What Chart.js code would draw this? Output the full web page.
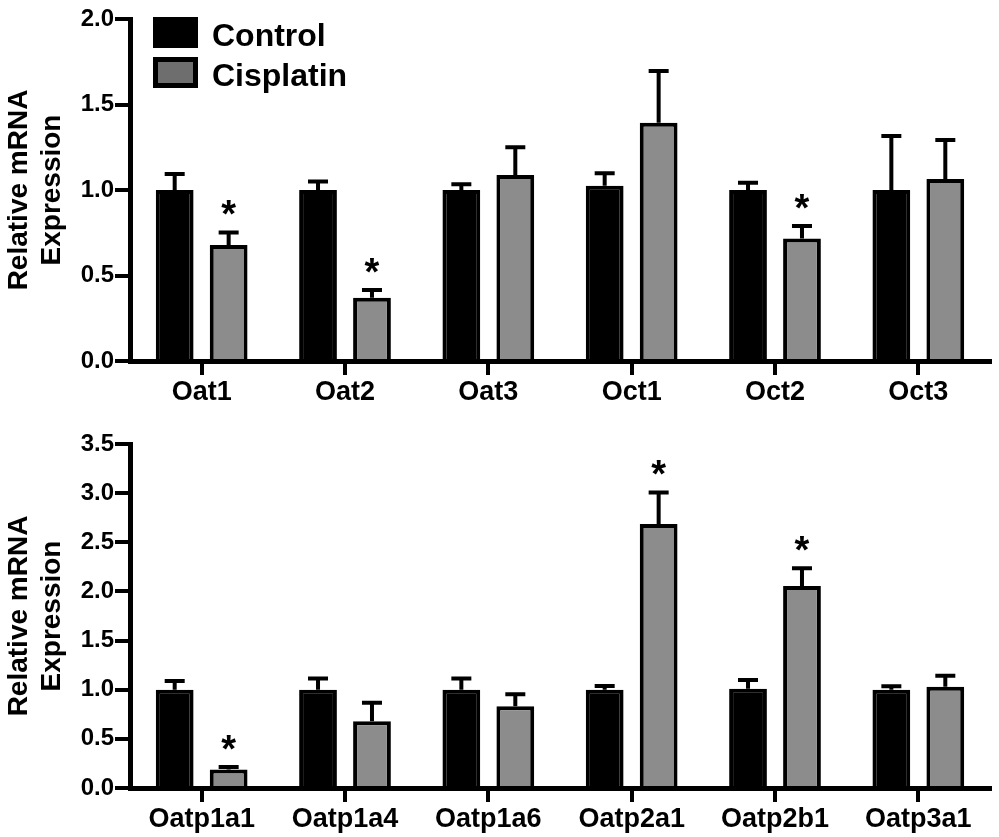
<!DOCTYPE html>
<html>
<head>
<meta charset="utf-8">
<script src="https://cdn.jsdelivr.net/npm/chart.js@4.4.1/dist/chart.umd.min.js"></script>
<style>
    body { margin: 0; background: #fff; }
    .panel { position: relative; width: 999px; }
    #top { height: 418px; }
    #bottom { height: 419px; }
</style>
</head>
<body>
<div class="panel" id="top"><canvas id="chart1"></canvas></div>
<div class="panel" id="bottom"><canvas id="chart2"></canvas></div>
<script>
// top panel: kidney uptake transporters
const groupsTop = ["Oat1", "Oat2", "Oat3", "Oct1", "Oct2", "Oct3"];
const controlTop = [1.0, 1.0, 1.0, 1.025, 1.0, 1.0];
const controlTopErr = [0.094, 0.049, 0.033, 0.073, 0.043, 0.316];
const cisTop = [0.678, 0.37, 1.088, 1.394, 0.717, 1.064];
const cisTopErr = [0.074, 0.045, 0.162, 0.302, 0.073, 0.228];
const sigTop = [true, true, false, false, true, false];
const yTicksTop = [0, 0.5, 1.0, 1.5, 2.0];

// bottom panel: Oatp family
const groupsBottom = ["Oatp1a1", "Oatp1a4", "Oatp1a6", "Oatp2a1", "Oatp2b1", "Oatp3a1"];
const controlBottom = [1.0, 1.0, 1.0, 1.0, 1.01, 1.0];
const controlBottomErr = [0.088, 0.115, 0.115, 0.037, 0.088, 0.034];
const cisBottom = [0.187, 0.68, 0.833, 2.685, 2.056, 1.03];
const cisBottomErr = [0.027, 0.187, 0.122, 0.322, 0.18, 0.112];
const sigBottom = [true, false, false, true, true, false];
const yTicksBottom = [0, 0.5, 1.0, 1.5, 2.0, 2.5, 3.0, 3.5];

const FONT = "'Liberation Sans', Arial, sans-serif";
Chart.defaults.font.family = FONT;
Chart.defaults.color = "#000";

// error bars (upper half only) + significance stars
const errorBars = {
    id: "errorBars",
    afterDatasetsDraw(chart) {
        const ctx = chart.ctx;
        const y = chart.scales.y;
        chart.data.datasets.forEach((ds, i) => {
            const meta = chart.getDatasetMeta(i);
            meta.data.forEach((bar, j) => {
                const top = y.getPixelForValue(ds.data[j] + ds.err[j]);
                ctx.save();
                ctx.strokeStyle = "#000";
                ctx.lineWidth = 4;
                ctx.beginPath();
                ctx.moveTo(bar.x, bar.y);
                ctx.lineTo(bar.x, top);
                ctx.moveTo(bar.x - 10, top);
                ctx.lineTo(bar.x + 10, top);
                ctx.stroke();
                if (ds.sig && ds.sig[j]) {
                    ctx.font = "bold 38px " + FONT;
                    ctx.fillStyle = "#000";
                    ctx.textAlign = "center";
                    ctx.textBaseline = "alphabetic";
                    const m = ctx.measureText("*");
                    ctx.fillText("*", bar.x, top - 17 - m.actualBoundingBoxDescent);
                }
                ctx.restore();
            });
        });
    }
};

// legend drawn inside the plot area, top-left
const insideLegend = {
    id: "insideLegend",
    afterDraw(chart) {
        const ctx = chart.ctx;
        const a = chart.chartArea;
        const swatch = ["#000", "#6e6e6e"];
        chart.data.datasets.forEach((ds, i) => {
            const x = a.left + 23;
            const y = a.top - 2 + i * 40;
            ctx.save();
            ctx.fillStyle = "#000";
            ctx.fillRect(x, y, 45, 31);
            ctx.fillStyle = swatch[i];
            ctx.fillRect(x + 5, y + 5, 35, 21);
            ctx.font = "bold 32px " + FONT;
            ctx.fillStyle = "#000";
            ctx.textBaseline = "alphabetic";
            ctx.fillText(ds.label, x + 59, y + 29);
            ctx.restore();
        });
    }
};

function makeChart(id, labels, ctrl, ctrlErr, cis, cisErr, sig, yTicks, padTop, xHeight, legend) {
    const plugins = [errorBars];
    if (legend) plugins.push(insideLegend);

    return new Chart(document.getElementById(id), {
        type: "bar",
        data: {
            labels: labels,
            datasets: [
                {
                    label: "Control",
                    data: ctrl,
                    err: ctrlErr,
                    backgroundColor: "#000",
                    borderColor: "#000",
                    borderWidth: 4
                },
                {
                    label: "Cisplatin",
                    data: cis,
                    err: cisErr,
                    sig: sig,
                    backgroundColor: "#8c8c8c",
                    borderColor: "#000",
                    borderWidth: 4
                }
            ]
        },
        options: {
            responsive: true,
            maintainAspectRatio: false,
            animation: false,
            layout: { padding: { top: padTop, right: 9, left: 0, bottom: 0 } },
            datasets: {
                bar: { categoryPercentage: 0.753, barPercentage: 0.70 }
            },
            plugins: {
                legend: { display: false },
                tooltip: { enabled: false }
            },
            scales: {
                x: {
                    grid: {
                        display: true,
                        drawOnChartArea: false,
                        offset: false,
                        tickLength: 14,
                        lineWidth: 4,
                        color: "#000"
                    },
                    border: { display: true, width: 5, color: "#000" },
                    ticks: {
                        color: "#000",
                        padding: 1,
                        maxRotation: 0,
                        font: { size: 27, weight: "bold" }
                    },
                    afterFit(s) { s.height = xHeight; }
                },
                y: {
                    min: yTicks[0],
                    max: yTicks[yTicks.length - 1],
                    afterBuildTicks(s) { s.ticks = yTicks.map(v => ({ value: v })); },
                    ticks: {
                        color: "#000",
                        padding: 1,
                        font: { size: 24, weight: "bold" },
                        callback: v => Number(v).toFixed(1)
                    },
                    grid: {
                        drawOnChartArea: false,
                        tickLength: 15,
                        lineWidth: 4,
                        color: "#000"
                    },
                    border: { display: true, width: 5, color: "#000" },
                    title: {
                        display: true,
                        text: ["Relative mRNA", "Expression"],
                        color: "#000",
                        font: { size: 28, weight: "bold", lineHeight: 1.18 },
                        padding: { top: 3, bottom: 0 }
                    },
                    afterFit(s) { s.width = 130; }
                }
            }
        },
        plugins: plugins
    });
}

makeChart("chart1", groupsTop, controlTop, controlTopErr, cisTop, cisTopErr, sigTop, yTicksTop, 19, 57, true);
makeChart("chart2", groupsBottom, controlBottom, controlBottomErr, cisBottom, cisBottomErr, sigBottom, yTicksBottom, 26, 49, false);
</script>
</body>
</html>
